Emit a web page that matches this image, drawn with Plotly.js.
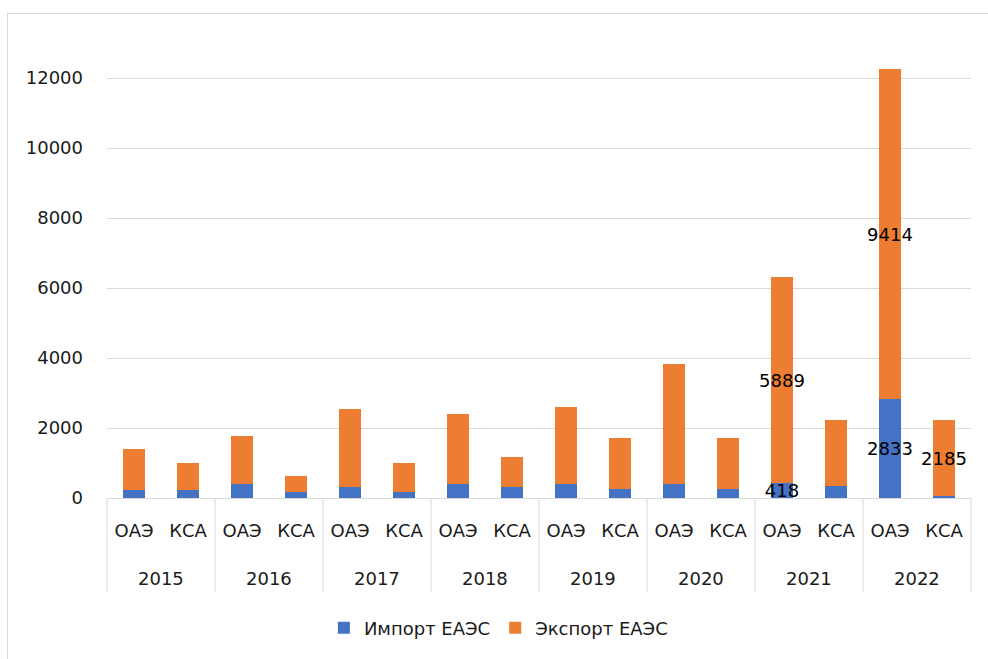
<!DOCTYPE html>
<html>
<head>
<meta charset="utf-8">
<script src="https://cdn.plot.ly/plotly-3.0.1.min.js"></script>
<style>
  html, body { margin: 0; padding: 0; background: #fff; }
  #wrap { position: relative; width: 988px; height: 659px; overflow: hidden; }
  #frame { position: absolute; left: 7px; top: 13px; width: 1200px; height: 800px;
           border-left: 1px solid #d9d9d9; border-top: 1px solid #d9d9d9; box-sizing: border-box; pointer-events: none; }
  #chart { position: absolute; left: 0; top: 0; width: 988px; height: 659px; }
</style>
</head>
<body>
<div id="wrap">
  <div id="chart"></div>
  <div id="frame"></div>
</div>
<script>
// ---- data ----
const years = ['2015', '2016', '2017', '2018', '2019', '2020', '2021', '2022'];
const countries = ['ОАЭ', 'КСА'];
const importVals = [240, 240, 400, 170, 310, 170, 400, 310, 410, 250, 410, 250, 418, 330, 2833, 44];
const exportVals = [1150, 770, 1360, 450, 2220, 840, 2000, 850, 2200, 1460, 3420, 1460, 5889, 1900, 9414, 2185];
const importLabeled = [false, false, false, false, false, false, false, false, false, false, false, false, true, false, true, false];
const exportLabeled = [false, false, false, false, false, false, false, false, false, false, false, false, true, false, true, true];
const seriesNames = ['Импорт ЕАЭС', 'Экспорт ЕАЭС'];

// ---- two-level category positions (year groups × country) ----
const nC = countries.length;
const xPos = [], innerText = [];
years.forEach((y, yi) => countries.forEach((c, ci) => { xPos.push(yi * nC + ci); innerText.push(c); }));

const FONT = 'DejaVu Sans, sans-serif';
const TXT = '#1a1a1a';
const GRID = '#d9d9d9';

function barTrace(name, vals, labeled, color) {
  return {
    type: 'bar',
    name: name,
    x: xPos,
    y: vals,
    marker: { color: color, line: { width: 0 } },
    text: vals.map((v, i) => labeled[i] ? String(v) : ''),
    textposition: 'inside',
    insidetextanchor: 'middle',
    textangle: 0,
    constraintext: 'none',
    textfont: { family: FONT, size: 18, color: '#000' },
    hoverinfo: 'y+name'
  };
}

const data = [
  barTrace(seriesNames[0], importVals, importLabeled, '#4472C4'),
  barTrace(seriesNames[1], exportVals, exportLabeled, '#ED7D31')
];

// outer-level labels (years) and group dividers
const plotH = 659 - 43 - 161;
const yearY = -(578 - 498) / plotH;
const divBottom = -(592 - 498) / plotH;
const annotations = years.map((y, yi) => ({
  text: y, xref: 'x', x: yi * nC + (nC - 1) / 2, yref: 'paper', y: yearY,
  yanchor: 'middle', xanchor: 'center', showarrow: false,
  font: { family: FONT, size: 18, color: TXT }
}));
const shapes = [];
for (let k = 0; k <= years.length; k++) {
  shapes.push({
    type: 'line', xref: 'paper', x0: k / years.length, x1: k / years.length,
    yref: 'paper', y0: 0, y1: divBottom,
    line: { color: GRID, width: 1 }
  });
}

const layout = {
  width: 988, height: 659,
  margin: { l: 107, r: 17, t: 43, b: 161 },
  paper_bgcolor: 'rgba(0,0,0,0)',
  plot_bgcolor: '#fff',
  barmode: 'stack',
  bargap: 0.6,
  font: { family: FONT, size: 18, color: TXT },
  showlegend: true,
  legend: {
    orientation: 'h', x: 0.453, xanchor: 'center', y: -0.286, yanchor: 'middle',
    font: { family: FONT, size: 18, color: TXT },
    traceorder: 'normal'
  },
  xaxis: {
    type: 'linear',
    range: [-0.5, xPos.length - 0.5],
    tickvals: xPos,
    ticktext: innerText,
    showline: true, linecolor: GRID, linewidth: 1,
    showgrid: false, zeroline: false,
    ticks: '',
    ticklabelstandoff: 16,
    tickfont: { family: FONT, size: 18, color: TXT }
  },
  yaxis: {
    range: [0, 13000],
    tickvals: [0, 2000, 4000, 6000, 8000, 10000, 12000],
    ticktext: ['0', '2000', '4000', '6000', '8000', '10000', '12000'],
    showgrid: true, gridcolor: GRID, gridwidth: 1,
    zeroline: false, showline: false,
    ticks: '',
    ticklabelstandoff: 23,
    tickfont: { family: FONT, size: 18, color: TXT }
  },
  annotations: annotations,
  shapes: shapes
};

Plotly.newPlot('chart', data, layout, { displayModeBar: false, staticPlot: true });
</script>
</body>
</html>
